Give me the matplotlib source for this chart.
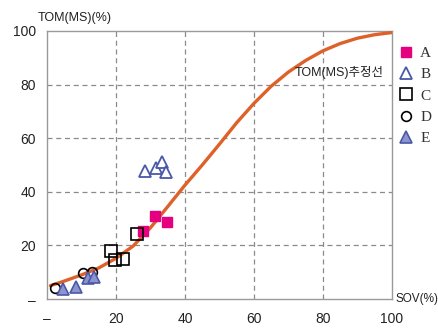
# TOM(MS) vs SOV scatter with estimated curve
import matplotlib
matplotlib.use("Agg")
import matplotlib.pyplot as plt

plt.rcParams['font.family'] = ['Liberation Sans', 'Noto Sans CJK KR', 'DejaVu Sans']

# --- data ---
a_x = [27.9, 31.4, 34.7]
a_y = [25.4, 30.8, 28.6]
b_x = [28.4, 31.5, 33.4, 34.5]
b_y = [47.9, 48.8, 51.2, 47.4]
c_x = [18.7, 19.7, 21.9, 26.0]
c_y = [17.9, 14.6, 14.8, 24.3]
d_x = [2.3, 10.3, 13.0]
d_y = [4.1, 9.6, 10.2]
e_x = [4.6, 8.4, 12.0, 13.6]
e_y = [3.6, 4.6, 7.7, 8.1]

curve_x = [1, 5, 10, 15, 20, 25, 30, 35, 40, 45, 50, 55, 60, 65, 70, 75, 80, 85, 90, 95, 100]
curve_y = [5.0, 6.7, 9.0, 11.6, 15.2, 19.8, 26.6, 34.5, 42.5, 50.0, 57.8, 65.8, 73.0, 79.4, 84.7, 89.0, 92.6, 95.3, 97.3, 98.6, 99.4]

ticks = [0, 20, 40, 60, 80, 100]
tick_labels = ['–', '20', '40', '60', '80', '100']

fig = plt.figure(figsize=(4.39, 3.29), dpi=100)
ax = fig.add_axes([0.107, 0.091, 0.786, 0.815])

ax.plot(curve_x, curve_y, color='#dd6129', lw=2.4, zorder=3,
        solid_capstyle='round', solid_joinstyle='round')

blue = '#4a58a8'
ax.plot(a_x, a_y, 's', ms=7, mfc='#e4007f', mec='#e4007f', ls='none', label='A', zorder=4)
ax.plot(b_x, b_y, '^', ms=9, mfc='white', mec=blue, mew=1.3, ls='none', label='B', zorder=4)
ax.plot(c_x, c_y, 's', ms=8, mfc='none', mec='black', mew=1.2, ls='none', label='C', zorder=4)
ax.plot(d_x, d_y, 'o', ms=7, mfc='none', mec='black', mew=1.2, ls='none', label='D', zorder=4)
ax.plot(e_x, e_y, '^', ms=9, mfc='#8c94cd', mec=blue, mew=1.2, ls='none', label='E', zorder=5)

ax.set_xlim(0, 100)
ax.set_ylim(0, 100)
ax.set_xticks(ticks)
ax.set_xticklabels(tick_labels)
ax.set_yticks(ticks)
ax.set_yticklabels(tick_labels)
ax.tick_params(axis='both', length=0, labelsize=10, colors='#222222')
ax.tick_params(axis='x', pad=9)
ax.tick_params(axis='y', pad=8)

for s in ax.spines.values():
    s.set_color('#9a9a9a')
    s.set_linewidth(1.0)

# dashed grid only on the inner ticks
ax.grid(True, color='#8a8a8a', ls=(0, (4, 3)), lw=0.9)
for gl, t in zip(ax.get_xgridlines(), ticks):
    gl.set_visible(t not in (0, 100))
for gl, t in zip(ax.get_ygridlines(), ticks):
    gl.set_visible(t not in (0, 100))
ax.set_axisbelow(True)

ax.text(97.5, 84.5, 'TOM(MS)추정선', ha='right', va='center', fontsize=9,
        family=['Liberation Sans', 'Noto Sans CJK KR'], color='#222222')

fig.text(0.085, 0.945, 'TOM(MS)(%)', fontsize=9, ha='left', va='center', color='#222222')
fig.text(0.900, 0.090, 'SOV(%)', fontsize=8.5, ha='left', va='center', color='#222222')

leg = ax.legend(loc='upper left', bbox_to_anchor=(1.0, 0.965), frameon=False,
                handlelength=1.0, handletextpad=0.45, labelspacing=0.5,
                prop={'family': 'Liberation Serif', 'size': 11}, borderaxespad=0)
for t in leg.get_texts():
    t.set_color('#333333')

fig.savefig('out.png', dpi=100)
